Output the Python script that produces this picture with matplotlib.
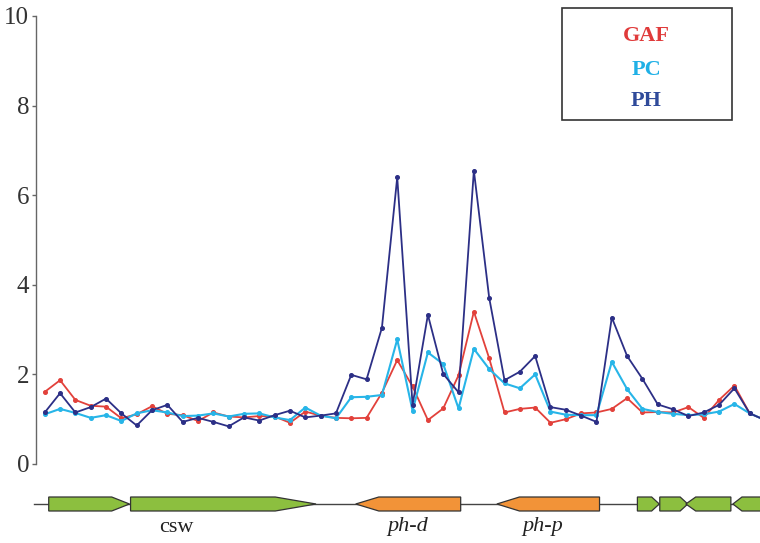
import matplotlib
matplotlib.use("Agg")
import matplotlib.pyplot as plt
from matplotlib.patches import Polygon
import numpy as np

# window index along the region (one point per window)
gaf = [1.61, 1.87, 1.43, 1.30, 1.28, 1.02, 1.11, 1.29, 1.12, 1.09,
       0.96, 1.15, 1.06, 1.04, 1.07, 1.06, 0.92, 1.17, 1.08, 1.03,
       1.02, 1.03, 1.59, 2.32, 1.73, 0.98, 1.24, 1.98, 3.40, 2.36,
       1.15, 1.23, 1.26, 0.92, 1.00, 1.13, 1.15, 1.23, 1.47, 1.15,
       1.16, 1.15, 1.27, 1.03, 1.43, 1.75, 1.13, 0.98]
pc = [1.11, 1.23, 1.14, 1.03, 1.09, 0.96, 1.13, 1.20, 1.15, 1.07,
      1.08, 1.13, 1.06, 1.12, 1.13, 1.04, 0.98, 1.26, 1.08, 1.02,
      1.49, 1.50, 1.54, 2.78, 1.19, 2.49, 2.23, 1.24, 2.57, 2.12,
      1.80, 1.69, 2.00, 1.17, 1.10, 1.09, 1.09, 2.28, 1.67, 1.23,
      1.16, 1.12, 1.09, 1.11, 1.17, 1.34, 1.13, 0.98]
ph = [1.15, 1.58, 1.15, 1.27, 1.46, 1.13, 0.86, 1.20, 1.32, 0.94,
      1.03, 0.94, 0.84, 1.04, 0.97, 1.09, 1.19, 1.04, 1.08, 1.13,
      1.99, 1.89, 3.04, 6.40, 1.32, 3.33, 2.01, 1.60, 6.55, 3.71,
      1.87, 2.06, 2.41, 1.27, 1.21, 1.08, 0.94, 3.27, 2.41, 1.90,
      1.33, 1.22, 1.07, 1.15, 1.32, 1.69, 1.13, 0.98]

series_names = ["GAF", "PC", "PH"]
line_colors = ["#e2413b", "#27b5e8", "#2c2f86"]
text_colors = ["#e03a3a", "#1fb0e6", "#2f4a9a"]

# genes in window units: start, end, strand, colour group
gene_start = [0.26, 5.6, 20.29, 29.5, 38.67, 40.13, 41.83, 44.9]
gene_end = [5.53, 17.7, 27.14, 36.2, 40.1, 41.96, 44.77, 47.6]
gene_strand = [1, 1, -1, -1, 1, 1, -1, -1]
gene_kind = ["g", "g", "o", "o", "g", "g", "g", "g"]
gene_names = ["csw", "ph-d", "ph-p"]
gene_name_pos = [8.6, 23.7, 32.5]
gene_name_italic = [False, True, True]

serif = "Liberation Serif"
x = np.arange(len(gaf))
xlim = (-0.57, 46.67)

fig = plt.figure(figsize=(7.6, 5.43), dpi=100)
ax = fig.add_axes([36 / 760, 79 / 543, 1 - 36 / 760, 448 / 543])

for vals, c, lw in zip([gaf, pc, ph], line_colors, [1.3, 1.5, 1.3]):
    ax.plot(x, vals, color=c, lw=lw, marker="o", ms=2.6, clip_on=True)

ax.set_xlim(*xlim)
ax.set_ylim(0, 10)
ax.set_yticks([0, 2, 4, 6, 8, 10])
for s in ["top", "right", "bottom"]:
    ax.spines[s].set_visible(False)
ax.spines["left"].set_color("#666666")
ax.spines["left"].set_linewidth(1.0)
ax.set_xticks([])
ax.tick_params(axis="y", length=3, width=1, color="#666666", pad=2,
               labelsize=18, labelcolor="#333333")
for lab in ax.get_yticklabels():
    lab.set_fontfamily(serif)

# legend box
fig.patches.append(plt.Rectangle((562 / 760, 1 - 120 / 543), 170 / 760, 112 / 543,
                                 transform=fig.transFigure, fill=False,
                                 ec="#333333", lw=1.2))
for name, c, yp in zip(series_names, text_colors, [36, 70, 101]):
    fig.text(646 / 760, 1 - yp / 543, name, color=c, fontsize=16,
             fontweight="bold", family=serif, ha="center", va="center")

# gene track
gax = fig.add_axes([36 / 760, 0, 1 - 36 / 760, 60 / 543])
gax.set_xlim(*xlim)
gax.set_ylim(0, 60)
gax.axis("off")
base = 39
h = 7
gax.plot([xlim[0] - 0.1, xlim[1]], [base, base], color="#444444", lw=1.0,
         clip_on=False, zorder=1)
kind_colors = {"g": "#8cbf3f", "o": "#f29338"}
for s, e, st, k in zip(gene_start, gene_end, gene_strand, gene_kind):
    L = e - s
    head = max(0.22 * L, 0.5)
    if st > 0:
        pts = [(s, base - h), (e - head, base - h), (e, base),
               (e - head, base + h), (s, base + h)]
    else:
        pts = [(s, base), (s + head, base - h), (e, base - h),
               (e, base + h), (s + head, base + h)]
    gax.add_patch(Polygon(pts, closed=True, fc=kind_colors[k], ec="#333333",
                          lw=0.9, zorder=2))
for name, xp, it in zip(gene_names, gene_name_pos, gene_name_italic):
    gax.text(xp, 16, name, fontsize=16, family=serif,
             style="italic" if it else "normal", ha="center", va="center",
             color="#222222")

fig.savefig("out.png", dpi=100)
